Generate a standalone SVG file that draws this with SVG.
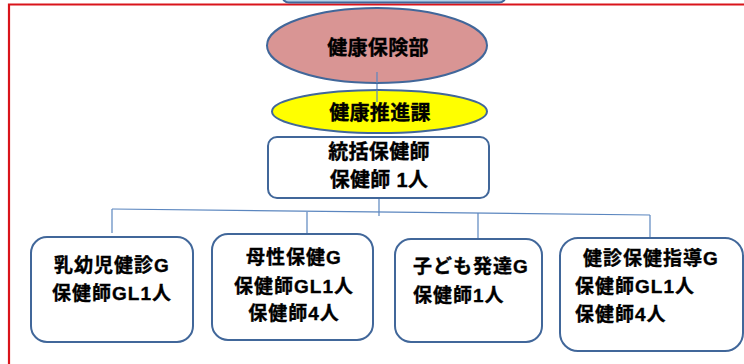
<svg xmlns="http://www.w3.org/2000/svg" width="744" height="364" viewBox="0 0 744 364">
<style>
.box{fill:#ffffff;stroke:#41679a;stroke-width:2}
.conn{stroke:#5b86bf;stroke-width:1.2;fill:none}
.t{font-family:"Liberation Sans","Noto Sans CJK JP","Noto Sans CJK SC",sans-serif;font-weight:bold;fill:#000;stroke:#000;stroke-width:0.35;dominant-baseline:central}
.big{font-size:20px;letter-spacing:0.3px;text-anchor:middle}
.sm{font-size:19px;letter-spacing:1px}
.mid{text-anchor:middle}
</style>
<rect x="0" y="0" width="744" height="364" fill="#ffffff"/>
<g id="frame">
<path d="M9,364 V4.5 H744" fill="none" stroke="#d9141b" stroke-width="2.2"/>
</g>
<g id="top-box">
<rect x="282" y="-20" width="224" height="22.5" rx="7" fill="#b9d4ea" stroke="#41679a" stroke-width="2"/>
</g>
<g id="connectors">
<line class="conn" x1="377" y1="72" x2="377" y2="102"/>
<line class="conn" x1="379" y1="198" x2="379" y2="216"/>
<line class="conn" x1="112" y1="209" x2="650" y2="215"/>
<line class="conn" x1="112" y1="209" x2="112" y2="233"/>
<line class="conn" x1="307" y1="212" x2="307" y2="234"/>
<line class="conn" x1="478" y1="213" x2="478" y2="238"/>
<line class="conn" x1="650" y1="215" x2="650" y2="238"/>
</g>
<g id="n-bu">
<ellipse cx="377" cy="45.5" rx="110" ry="37.5" fill="#d99594" stroke="#41679a" stroke-width="2"/>
<line class="conn" x1="377" y1="72" x2="377" y2="83"/>
<text class="t big" x="378" y="47.5">健康保険部</text>
</g>
<g id="n-ka">
<ellipse cx="379.5" cy="111.5" rx="107.5" ry="21.5" fill="#ffff00" stroke="#41679a" stroke-width="2"/>
<line class="conn" x1="377" y1="90" x2="377" y2="102"/>
<text class="t big" x="380" y="112.5">健康推進課</text>
</g>
<g id="n-tokatsu">
<rect class="box" x="268" y="137" width="221" height="61" rx="9"/>
<text class="t big" x="379" y="151.5">統括保健師</text>
<text class="t big" x="379" y="180">保健師 1人</text>
</g>
<g id="n-nyuyoji">
<rect class="box" x="31" y="237" width="162" height="105" rx="16"/>
<text class="t sm mid" x="112" y="265">乳幼児健診G</text>
<text class="t sm mid" x="112" y="293.5">保健師GL1人</text>
</g>
<g id="n-bosei">
<rect class="box" x="212" y="234" width="161" height="106" rx="16"/>
<text class="t sm mid" x="294" y="257.5">母性保健G</text>
<text class="t sm mid" x="294" y="286.5">保健師GL1人</text>
<text class="t sm mid" x="294" y="313.5">保健師4人</text>
</g>
<g id="n-kodomo">
<rect class="box" x="395" y="239" width="147" height="103" rx="16"/>
<text class="t sm" x="413" y="266.5">子ども発達G</text>
<text class="t sm" x="413" y="295">保健師1人</text>
</g>
<g id="n-kenshin">
<rect class="box" x="560" y="238" width="183" height="113" rx="18"/>
<text class="t sm" x="583" y="258">健診保健指導G</text>
<text class="t sm" x="575" y="286.5">保健師GL1人</text>
<text class="t sm" x="575" y="314">保健師4人</text>
</g>
</svg>
